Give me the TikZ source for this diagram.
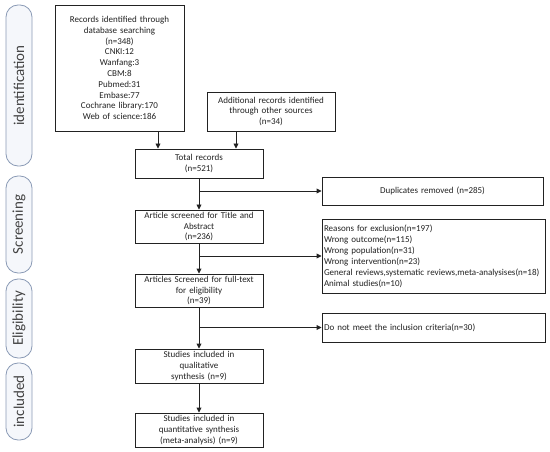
\documentclass[tikz,border=0pt]{standalone}
\usepackage{fontspec}
\setmainfont{Carlito}
\usetikzlibrary{arrows.meta}
\definecolor{phaseborder}{HTML}{8A9AB5}
\definecolor{phasefill}{HTML}{F5F7FB}
\definecolor{ink}{HTML}{222222}
\tikzset{
  box/.style={draw=ink, line width=0.9pt, fill=white, inner sep=1pt, align=center,
    font=\fontsize{9}{10.8}\selectfont, text=ink},
  leftbox/.style={box, align=left, font=\fontsize{9}{11}\selectfont},
  phase/.style={draw=phaseborder, line width=0.8pt, fill=phasefill, rounded corners=12pt,
    rotate=90, minimum height=26pt, inner sep=0pt, font=\fontsize{15}{16}\selectfont, text=ink!85},
  arr/.style={draw=ink, line width=0.9pt, -{Triangle[length=5pt,width=4.8pt]}},
}
\begin{document}
\begin{tikzpicture}[x=1pt,y=-1pt]
\useasboundingbox (0,0) rectangle (550,452);
% phase labels
\node[phase, minimum width=161pt] (pid) at (19,85.5) {identification};
\node[phase, minimum width=97pt] (psc) at (19,224.5) {Screening};
\node[phase, minimum width=79pt] (pel) at (19,318.5) {Eligibility};
\node[phase, minimum width=77pt] (pin) at (19,401.5) {included};
% boxes
\node[box, minimum width=129pt, minimum height=126pt, text width=125pt] (rec) at (119.5,68)
  {Records identified through\\database searching\\(n=348)\\CNKI:12\\Wanfang:3\\CBM:8\\Pubmed:31\\Embase:77\\Cochrane library:170\\Web of science:186\\[3pt]};
\node[box, minimum width=128pt, minimum height=39pt, text width=124pt] (add) at (271,111.5)
  {Additional records identified\\through other sources\\(n=34)};
\node[box, minimum width=128pt, minimum height=29pt, text width=124pt] (tot) at (199,163.5)
  {Total records\\(n=521)};
\node[box, minimum width=221pt, minimum height=28pt, text width=217pt] (dup) at (432.5,191)
  {Duplicates removed (n=285)};
\node[box, minimum width=128pt, minimum height=33pt, text width=124pt] (art) at (199,226.5)
  {Article screened for Title and\\Abstract\\(n=236)};
\node[leftbox, minimum width=223pt, minimum height=74pt, text width=219pt] (rea) at (433.5,256)
  {Reasons for exclusion(n=197)\\Wrong outcome(n=115)\\Wrong population(n=31)\\Wrong intervention(n=23)\\General reviews,systematic reviews,meta-analysises(n=18)\\Animal studies(n=10)};
\node[box, minimum width=128pt, minimum height=33pt, text width=124pt] (ful) at (199,290.5)
  {Articles Screened for full-text\\for eligibility\\(n=39)};
\node[leftbox, minimum width=223pt, minimum height=29pt, text width=219pt] (dnm) at (433.5,327.5)
  {Do not meet the inclusion criteria(n=30)};
\node[box, minimum width=128pt, minimum height=34pt, text width=124pt] (qua) at (199,366)
  {Studies included in\\qualitative\\synthesis (n=9)};
\node[box, minimum width=128pt, minimum height=34pt, text width=124pt] (qnt) at (199,430)
  {Studies included in\\quantitative synthesis\\(meta-analysis) (n=9)};
% connectors
\coordinate (c1) at (158,0);
\coordinate (c2) at (236,0);
\draw[arr] (rec.south -| c1) -- (c1 |- tot.north);
\draw[arr] (add.south -| c2) -- (c2 |- tot.north);
\draw[arr] (tot) -- (art);
\draw[arr] (tot.south |- dup.west) -- (dup.west);
\draw[arr] (art) -- (ful);
\draw[arr] (art.south |- rea.west) -- (rea.west);
\draw[arr] (ful) -- (qua);
\draw[arr] (ful.south |- dnm.west) -- (dnm.west);
\draw[arr] (qua) -- (qnt);
\end{tikzpicture}
\end{document}
